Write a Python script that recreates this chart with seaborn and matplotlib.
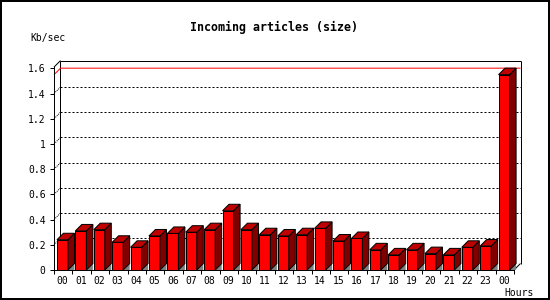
import numpy as np
import matplotlib
matplotlib.use("Agg")
import matplotlib.pyplot as plt
from matplotlib.patches import Polygon, Rectangle
import seaborn as sns

# ---- data ----
hours = ["00", "01", "02", "03", "04", "05", "06", "07", "08", "09", "10", "11",
         "12", "13", "14", "15", "16", "17", "18", "19", "20", "21", "22", "23", "00"]
kb_per_sec = [0.24, 0.31, 0.32, 0.22, 0.18, 0.27, 0.29, 0.30, 0.32, 0.47, 0.32, 0.28,
              0.27, 0.28, 0.33, 0.23, 0.25, 0.16, 0.12, 0.16, 0.13, 0.12, 0.18, 0.19, 1.55]
y_ticks = [0, 0.2, 0.4, 0.6, 0.8, 1.0, 1.2, 1.4, 1.6]
y_tick_labels = ["0", "0.2", "0.4", "0.6", "0.8", "1", "1.2", "1.4", "1.6"]
title = "Incoming articles (size)"
y_title = "Kb/sec"
x_title = "Hours"

FRONT = "#FF0000"
TOP = "#C00000"
SIDE = "#800000"
SHADOW = "#808080"
LW = 0.72  # 1 px

sns.set_style("white")
plt.rcParams["font.family"] = ["DejaVu Sans Mono"]

fig = plt.figure(figsize=(5.5, 3), dpi=100)
fig.patch.set_facecolor("white")
ax = fig.add_axes([54 / 550, 30 / 300, 460 / 550, 202.9 / 300])
ax.set_facecolor("none")

idx = np.arange(len(kb_per_sec))
sns.barplot(x=idx, y=kb_per_sec, color=FRONT, saturation=1, width=0.6,
            edgecolor="black", linewidth=LW, errorbar=None, ax=ax)

xl = (-0.46, len(kb_per_sec) - 0.46)
yl = (0, 1.61)
ax.set_xlim(*xl)
ax.set_ylim(*yl)

# depth offset (6.5 px) converted to data units
fig.canvas.draw()
p0 = ax.transData.transform((0, 0))
p1 = ax.transData.transform((1, 1))
dx = 6.5 / (p1[0] - p0[0])
dy = 6.5 / (p1[1] - p0[1])

# back plane frame
def seg(xs, ys, **kw):
    ax.plot(xs, ys, clip_on=False, solid_capstyle="butt", **kw)

frame_kw = dict(color="black", lw=LW, zorder=1)
seg([xl[0] + dx, xl[1] + dx], [yl[1] + dy, yl[1] + dy], **frame_kw)
seg([xl[0] + dx, xl[0] + dx], [dy, yl[1] + dy], **frame_kw)
seg([xl[1] + dx, xl[1] + dx], [dy, yl[1] + dy], **frame_kw)
seg([xl[0], xl[0] + dx], [yl[1], yl[1] + dy], **frame_kw)
seg([xl[1], xl[1] + dx], [0, dy], **frame_kw)

# dotted grid on back plane
for v in y_ticks[1:-1]:
    seg([xl[0] + dx, xl[1] + dx], [v + dy, v + dy], color="black", lw=LW,
        linestyle=(0, (2, 2)), zorder=1)
    seg([xl[0], xl[0] + dx], [v, v + dy], color="black", lw=LW,
        linestyle=(0, (1, 1)), zorder=1)

# red max line
vmax = max(kb_per_sec)
seg([xl[0], xl[0] + dx, xl[1] + dx], [vmax, vmax + dy, vmax + dy],
    color="#FF0000", lw=LW, zorder=1.5)

# 3D faces
for p in list(ax.patches):
    x0, w, h = p.get_x(), p.get_width(), p.get_height()
    p.set_zorder(3)
    xr = x0 + w
    shadow = Polygon([(xr, 0), (xr + dx, dy), (xr + dx, 0)], closed=True,
                     facecolor=SHADOW, edgecolor="none", clip_on=False, zorder=2)
    side = Polygon([(xr, 0), (xr, h), (xr + dx, h + dy), (xr + dx, dy)], closed=True,
                   facecolor=SIDE, edgecolor="black", lw=LW, clip_on=False, zorder=3)
    top = Polygon([(x0, h), (xr, h), (xr + dx, h + dy), (x0 + dx, h + dy)], closed=True,
                  facecolor=TOP, edgecolor="black", lw=LW, clip_on=False, zorder=3)
    for poly in (shadow, side, top):
        ax.add_patch(poly)

# axes styling
for s in ("top", "right"):
    ax.spines[s].set_visible(False)
for s in ("left", "bottom"):
    ax.spines[s].set_color("black")
    ax.spines[s].set_linewidth(LW)
    ax.spines[s].set_zorder(4)

ax.set_yticks(y_ticks)
ax.set_yticklabels(y_tick_labels)
ax.set_xticks(idx)
ax.set_xticklabels(hours)
ax.set_xticks(np.arange(len(kb_per_sec) + 1) + xl[0], minor=True)
ax.tick_params(axis="x", which="major", length=0, pad=4.2, labelsize=7, colors="black")
ax.tick_params(axis="x", which="minor", length=3, width=LW, direction="out",
               bottom=True, color="black")
ax.tick_params(axis="y", which="major", length=3, width=LW, direction="out",
               pad=3, labelsize=7, left=True, colors="black")
ax.set_xlabel("")
ax.set_ylabel("")
ax.grid(False)

fig.text(274 / 550, 1 - 31.5 / 300, title, ha="center", va="baseline",
         fontsize=8.4, fontweight="bold", color="black")
fig.text(30 / 550, 1 - 41.5 / 300, y_title, ha="left", va="baseline",
         fontsize=7, color="black")
fig.text(534 / 550, 1 - 296.5 / 300, x_title, ha="right", va="baseline",
         fontsize=7, color="black")

fig.add_artist(Rectangle((0, 0), 1, 1, transform=fig.transFigure, fill=False,
                         edgecolor="black", lw=2.88, clip_on=False))

fig.savefig("out.png", dpi=100, facecolor="white")
